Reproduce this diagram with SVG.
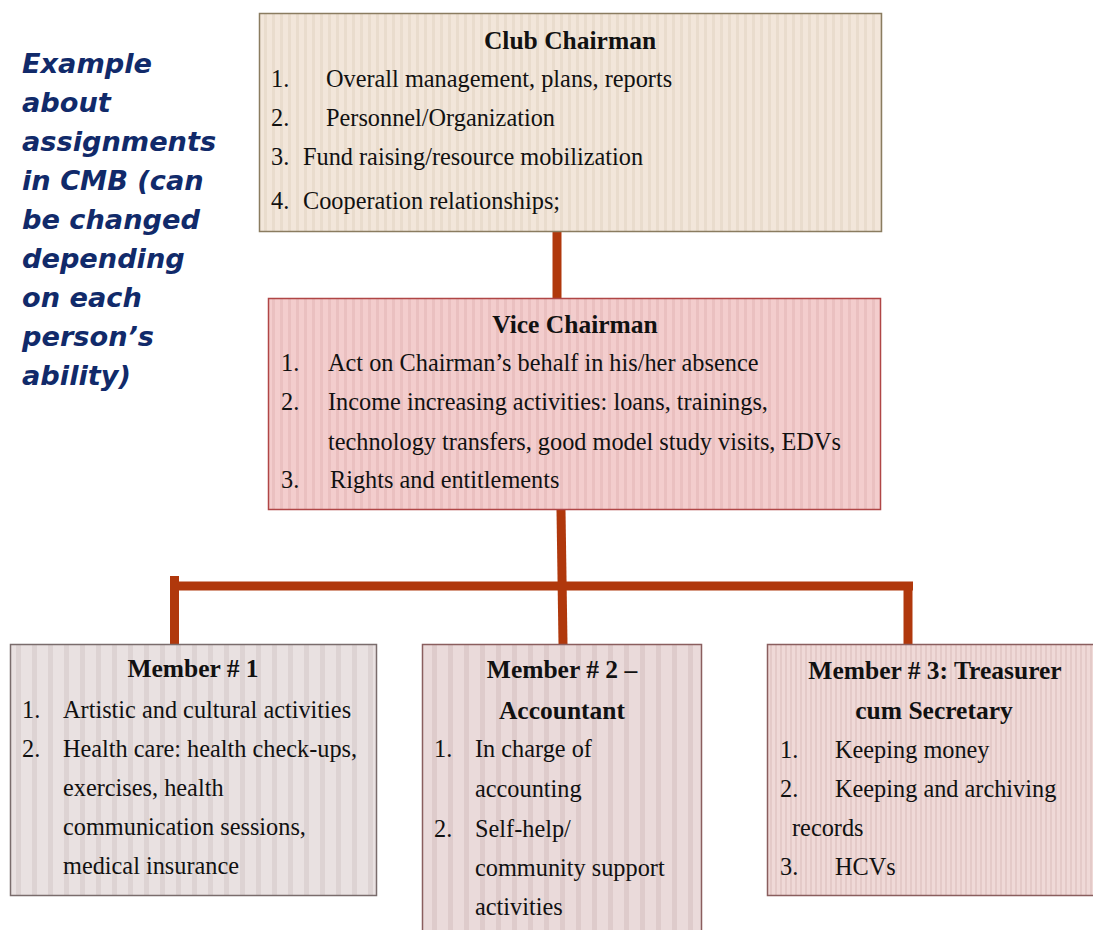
<svg xmlns="http://www.w3.org/2000/svg" width="1093" height="930" viewBox="0 0 1093 930">
<defs>
<pattern id="pClub" patternUnits="userSpaceOnUse" width="8" height="10"><rect width="8" height="10" fill="#F2E6DA"/><rect x="0" width="3" height="10" fill="#E9DCCD"/></pattern>
<pattern id="pVice" patternUnits="userSpaceOnUse" width="8" height="10"><rect width="8" height="10" fill="#F3CDCD"/><rect x="0" width="3" height="10" fill="#EAC0C0"/></pattern>
<pattern id="pM1" patternUnits="userSpaceOnUse" width="16" height="10"><rect width="16" height="10" fill="#E9E1E1"/><rect x="0" width="5" height="10" fill="#DDD3D3"/></pattern>
<pattern id="pM2" patternUnits="userSpaceOnUse" width="16" height="10"><rect width="16" height="10" fill="#EADADA"/><rect x="0" width="5" height="10" fill="#DECBCB"/></pattern>
<pattern id="pM3" patternUnits="userSpaceOnUse" width="5" height="10"><rect width="5" height="10" fill="#EFD9D7"/><rect x="0" width="2" height="10" fill="#E4CAC8"/></pattern>
</defs>
<style>
.t{font-family:"Liberation Serif","Times New Roman",serif;font-size:24.3px;fill:#111;}
.h{font-family:"Liberation Serif","Times New Roman",serif;font-size:25.5px;font-weight:bold;fill:#111;text-anchor:middle;}
.note{font-family:"DejaVu Sans",Verdana,sans-serif;font-size:27.2px;font-weight:bold;font-style:italic;fill:#112A6A;}
.conn{fill:none;stroke:#B0380C;stroke-width:9;}
</style>

<g id="note">
<text class="note" x="22" y="73">Example</text>
<text class="note" x="22" y="112">about</text>
<text class="note" x="22" y="151">assignments</text>
<text class="note" x="22" y="190">in CMB (can</text>
<text class="note" x="22" y="229">be changed</text>
<text class="note" x="22" y="268">depending</text>
<text class="note" x="22" y="307">on each</text>
<text class="note" x="22" y="346">person’s</text>
<text class="note" x="22" y="385">ability)</text>
</g>

<g id="connectors">
<line class="conn" x1="557" y1="232" x2="557" y2="298"/>
<line class="conn" x1="561" y1="510" x2="563" y2="644"/>
<polyline class="conn" points="174.5,645 174.5,576"/>
<line class="conn" x1="170" y1="586" x2="913" y2="586"/>
<polyline class="conn" points="908,582 908,644"/>
</g>

<g id="club-chairman">
<rect x="259.5" y="13.5" width="622" height="218" fill="url(#pClub)" stroke="#8A7C60" stroke-width="1.5"/>
<text class="h" x="570" y="49">Club Chairman</text>
<text class="t" x="271" y="87">1.</text><text class="t" x="326" y="87">Overall management, plans, reports</text>
<text class="t" x="271" y="126">2.</text><text class="t" x="326" y="126">Personnel/Organization</text>
<text class="t" x="271" y="165">3.</text><text class="t" x="303" y="165">Fund raising/resource mobilization</text>
<text class="t" x="271" y="209">4.</text><text class="t" x="303" y="209">Cooperation relationships;</text>
</g>

<g id="vice-chairman">
<rect x="268.5" y="298.5" width="612" height="211" fill="url(#pVice)" stroke="#B04646" stroke-width="1.5"/>
<text class="h" x="575" y="333">Vice Chairman</text>
<text class="t" x="281" y="371">1.</text><text class="t" x="328" y="371">Act on Chairman’s behalf in his/her absence</text>
<text class="t" x="281" y="410">2.</text><text class="t" x="328" y="410">Income increasing activities: loans, trainings,</text>
<text class="t" x="328" y="450">technology transfers, good model study visits, EDVs</text>
<text class="t" x="281" y="488">3.</text><text class="t" x="330" y="488">Rights and entitlements</text>
</g>

<g id="member-1">
<rect x="10.5" y="644.5" width="366" height="251" fill="url(#pM1)" stroke="#7A6C6C" stroke-width="1.5"/>
<text class="h" x="193" y="677">Member # 1</text>
<text class="t" x="22" y="718">1.</text><text class="t" x="63" y="718">Artistic and cultural activities</text>
<text class="t" x="22" y="757">2.</text><text class="t" x="63" y="757">Health care: health check-ups,</text>
<text class="t" x="63" y="796">exercises, health</text>
<text class="t" x="63" y="835">communication sessions,</text>
<text class="t" x="63" y="874">medical insurance</text>
</g>

<g id="member-2">
<rect x="422.5" y="644.5" width="279" height="295" fill="url(#pM2)" stroke="#8A5E5E" stroke-width="1.5"/>
<text class="h" x="562" y="678">Member # 2 –</text>
<text class="h" x="562" y="719">Accountant</text>
<text class="t" x="434" y="757">1.</text><text class="t" x="475" y="757">In charge of</text>
<text class="t" x="475" y="797">accounting</text>
<text class="t" x="434" y="837">2.</text><text class="t" x="475" y="837">Self-help/</text>
<text class="t" x="475" y="876">community support</text>
<text class="t" x="475" y="915">activities</text>
</g>

<g id="member-3">
<rect x="767.5" y="644.5" width="330" height="251" fill="url(#pM3)" stroke="#8A5E5E" stroke-width="1.5"/>
<text class="h" x="935" y="679">Member # 3: Treasurer</text>
<text class="h" x="934" y="719">cum Secretary</text>
<text class="t" x="780" y="758">1.</text><text class="t" x="835" y="758">Keeping money</text>
<text class="t" x="780" y="797">2.</text><text class="t" x="835" y="797">Keeping and archiving</text>
<text class="t" x="792" y="836">records</text>
<text class="t" x="780" y="875">3.</text><text class="t" x="835" y="875">HCVs</text>
</g>
</svg>
